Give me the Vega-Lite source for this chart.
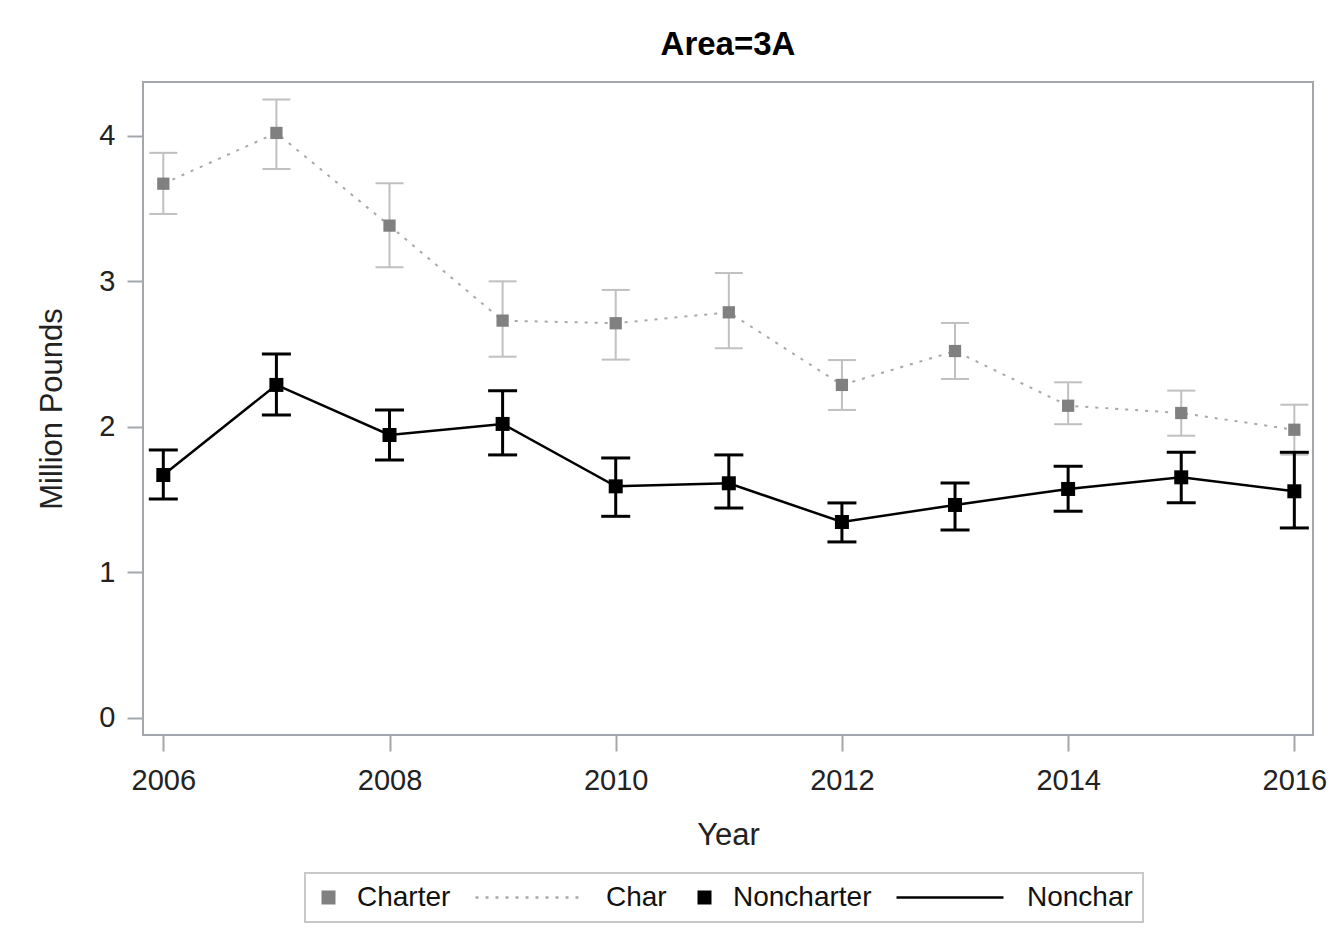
{
  "$schema": "https://vega.github.io/schema/vega-lite/v6.json",
  "width": 1170,
  "height": 653,
  "padding": {"left": 36, "top": 29, "right": 5, "bottom": 5},
  "background": "white",
  "title": {"text": "Area=3A", "fontSize": 33, "font": "Liberation Sans", "fontWeight": "bold", "color": "#000000", "offset": 20},
  "config": {
    "view": {"stroke": "#a3a7ab", "strokeWidth": 2},
    "axis": {"grid": false, "domain": false, "tickColor": "#a3a7ab", "tickWidth": 2, "tickSize": 16, "labelFont": "Liberation Sans", "labelFontSize": 29, "labelColor": "#222222", "titleFont": "Liberation Sans", "titleFontSize": 31, "titleFontWeight": "normal", "titleColor": "#222222"},
    "legend": {"labelFont": "Liberation Sans", "labelFontSize": 28, "labelColor": "#111111"}
  },
  "data": {"values": [
    {"year": 2006, "group": "Charter", "line": "Char", "mean": 3.672, "lo": 3.464, "hi": 3.884},
    {"year": 2007, "group": "Charter", "line": "Char", "mean": 4.021, "lo": 3.773, "hi": 4.250},
    {"year": 2008, "group": "Charter", "line": "Char", "mean": 3.384, "lo": 3.098, "hi": 3.675},
    {"year": 2009, "group": "Charter", "line": "Char", "mean": 2.731, "lo": 2.483, "hi": 3.001},
    {"year": 2010, "group": "Charter", "line": "Char", "mean": 2.713, "lo": 2.463, "hi": 2.942},
    {"year": 2011, "group": "Charter", "line": "Char", "mean": 2.788, "lo": 2.541, "hi": 3.058},
    {"year": 2012, "group": "Charter", "line": "Char", "mean": 2.289, "lo": 2.117, "hi": 2.460},
    {"year": 2013, "group": "Charter", "line": "Char", "mean": 2.522, "lo": 2.330, "hi": 2.715},
    {"year": 2014, "group": "Charter", "line": "Char", "mean": 2.146, "lo": 2.019, "hi": 2.307},
    {"year": 2015, "group": "Charter", "line": "Char", "mean": 2.096, "lo": 1.940, "hi": 2.250},
    {"year": 2016, "group": "Charter", "line": "Char", "mean": 1.981, "lo": 1.810, "hi": 2.153},
    {"year": 2006, "group": "Noncharter", "line": "Nonchar", "mean": 1.670, "lo": 1.505, "hi": 1.842},
    {"year": 2007, "group": "Noncharter", "line": "Nonchar", "mean": 2.289, "lo": 2.082, "hi": 2.502},
    {"year": 2008, "group": "Noncharter", "line": "Nonchar", "mean": 1.945, "lo": 1.773, "hi": 2.117},
    {"year": 2009, "group": "Noncharter", "line": "Nonchar", "mean": 2.021, "lo": 1.808, "hi": 2.249},
    {"year": 2010, "group": "Noncharter", "line": "Nonchar", "mean": 1.592, "lo": 1.386, "hi": 1.787},
    {"year": 2011, "group": "Noncharter", "line": "Nonchar", "mean": 1.613, "lo": 1.443, "hi": 1.808},
    {"year": 2012, "group": "Noncharter", "line": "Nonchar", "mean": 1.347, "lo": 1.210, "hi": 1.478},
    {"year": 2013, "group": "Noncharter", "line": "Nonchar", "mean": 1.464, "lo": 1.292, "hi": 1.615},
    {"year": 2014, "group": "Noncharter", "line": "Nonchar", "mean": 1.574, "lo": 1.421, "hi": 1.730},
    {"year": 2015, "group": "Noncharter", "line": "Nonchar", "mean": 1.654, "lo": 1.480, "hi": 1.826},
    {"year": 2016, "group": "Noncharter", "line": "Nonchar", "mean": 1.558, "lo": 1.306, "hi": 1.826}
  ]},
  "encoding": {
    "x": {"field": "year", "type": "quantitative", "scale": {"domain": [2005.8205, 2016.165], "nice": false, "zero": false},
      "axis": {"values": [2006, 2008, 2010, 2012, 2014, 2016], "format": "d", "title": "Year", "labelPadding": 15, "titlePadding": 25, "labelFlush": false, "labelOverlap": false}},
    "color": {"field": "line", "type": "nominal",
      "scale": {"domain": ["Charter", "Char", "Noncharter", "Nonchar"], "range": ["#808080", "#a8a8a8", "#000000", "#000000"]},
      "legend": {
        "title": null, "orient": "none", "legendX": 162, "legendY": 791, "direction": "horizontal",
        "clipHeight": 29, "labelOffset": 15, "columnPadding": 24, "padding": 10,
        "strokeColor": "#c8c8c8", "fillColor": "white",
        "encode": {
          "legend": {"update": {"strokeWidth": {"value": 2}}},
          "symbols": {"update": {
            "x": {"signal": "(datum.value == 'Char' || datum.value == 'Nonchar') ? 54 : 13.5"},
            "shape": {"signal": "(datum.value == 'Char' || datum.value == 'Nonchar') ? 'stroke' : 'square'"},
            "size": {"signal": "(datum.value == 'Char' || datum.value == 'Nonchar') ? 11449 : 196"},
            "fill": {"signal": "datum.value == 'Charter' ? '#808080' : (datum.value == 'Noncharter' ? '#000000' : 'transparent')"},
            "stroke": {"signal": "datum.value == 'Char' ? '#a8a8a8' : (datum.value == 'Nonchar' ? '#000000' : 'transparent')"},
            "strokeDash": {"signal": "datum.value == 'Char' ? [3, 7] : [1, 0]"},
            "strokeWidth": {"signal": "(datum.value == 'Char' || datum.value == 'Nonchar') ? 2.5 : 0"},
            "opacity": {"value": 1}
          }},
          "labels": {"update": {
            "x": {"signal": "(datum.value == 'Char' || datum.value == 'Nonchar') ? 131 : 42"}
          }}
        }
      }}
  },
  "layer": [
    {
      "transform": [{"filter": "datum.group == 'Charter'"}],
      "layer": [
        {"mark": {"type": "line", "strokeWidth": 2, "strokeDash": [3, 7]},
         "encoding": {"y": {"field": "mean", "type": "quantitative", "title": "Million Pounds", "scale": {"domain": [-0.117, 4.371], "nice": false, "zero": false}, "axis": {"values": [0, 1, 2, 3, 4], "format": "d", "labelPadding": 12, "titlePadding": 30, "title": "Million Pounds"}}}},
        {"mark": {"type": "rule", "color": "#c0c0c0", "strokeWidth": 2},
         "encoding": {"y": {"field": "lo", "type": "quantitative", "title": "Million Pounds"}, "y2": {"field": "hi"}, "color": {"value": "#c0c0c0"}}},
        {"mark": {"type": "tick", "orient": "horizontal", "size": 28, "thickness": 2, "opacity": 1},
         "encoding": {"y": {"field": "lo", "type": "quantitative", "title": "Million Pounds"}, "color": {"value": "#c0c0c0"}}},
        {"mark": {"type": "tick", "orient": "horizontal", "size": 28, "thickness": 2, "opacity": 1},
         "encoding": {"y": {"field": "hi", "type": "quantitative", "title": "Million Pounds"}, "color": {"value": "#c0c0c0"}}},
        {"mark": {"type": "point", "shape": "square", "filled": true, "size": 150, "opacity": 1},
         "encoding": {"y": {"field": "mean", "type": "quantitative", "title": "Million Pounds"}, "color": {"field": "group", "type": "nominal"}}}
      ]
    },
    {
      "transform": [{"filter": "datum.group == 'Noncharter'"}],
      "layer": [
        {"mark": {"type": "rule", "strokeWidth": 3},
         "encoding": {"y": {"field": "lo", "type": "quantitative", "title": "Million Pounds"}, "y2": {"field": "hi"}, "color": {"value": "#000000"}}},
        {"mark": {"type": "tick", "orient": "horizontal", "size": 29, "thickness": 3, "opacity": 1},
         "encoding": {"y": {"field": "lo", "type": "quantitative", "title": "Million Pounds"}, "color": {"value": "#000000"}}},
        {"mark": {"type": "tick", "orient": "horizontal", "size": 29, "thickness": 3, "opacity": 1},
         "encoding": {"y": {"field": "hi", "type": "quantitative", "title": "Million Pounds"}, "color": {"value": "#000000"}}},
        {"mark": {"type": "line", "strokeWidth": 2.5},
         "encoding": {"y": {"field": "mean", "type": "quantitative", "title": "Million Pounds"}}},
        {"mark": {"type": "point", "shape": "square", "filled": true, "size": 196, "opacity": 1},
         "encoding": {"y": {"field": "mean", "type": "quantitative", "title": "Million Pounds"}, "color": {"field": "group", "type": "nominal"}}}
      ]
    }
  ],
  "resolve": {"scale": {"color": "shared", "y": "shared"}}
}
